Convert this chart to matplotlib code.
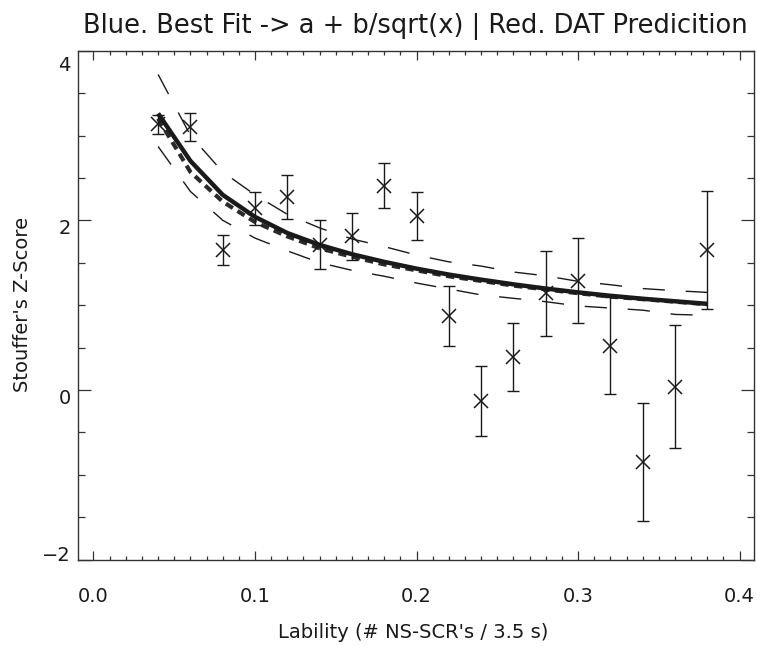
import matplotlib
matplotlib.use("Agg")
import matplotlib.pyplot as plt
from matplotlib.ticker import MultipleLocator
from matplotlib.transforms import ScaledTranslation

plt.rcParams['font.family'] = ['DejaVu Sans']

# Data
lability = [0.04, 0.06, 0.08, 0.10, 0.12, 0.14, 0.16, 0.18, 0.20,
            0.22, 0.24, 0.26, 0.28, 0.30, 0.32, 0.34, 0.36, 0.38]
zscore = [3.13, 3.10, 1.65, 2.14, 2.28, 1.71, 1.81, 2.41, 2.05,
          0.87, -0.13, 0.39, 1.14, 1.29, 0.52, -0.85, 0.04, 1.65]
zerr = [0.11, 0.16, 0.18, 0.19, 0.26, 0.29, 0.28, 0.27, 0.28,
        0.35, 0.41, 0.40, 0.50, 0.50, 0.57, 0.70, 0.72, 0.70]
best_fit = [3.26, 2.70, 2.30, 2.04, 1.85, 1.71, 1.60, 1.51, 1.43,
            1.36, 1.30, 1.245, 1.195, 1.15, 1.11, 1.075, 1.045, 1.015]
dat_pred = [3.20, 2.57, 2.22, 1.98, 1.81, 1.67, 1.57, 1.48, 1.41,
            1.34, 1.285, 1.23, 1.185, 1.14, 1.10, 1.07, 1.04, 1.01]
band_upper = [3.72, 3.00, 2.57, 2.30, 2.07, 1.91, 1.78, 1.69, 1.59,
              1.51, 1.46, 1.39, 1.345, 1.28, 1.24, 1.195, 1.17, 1.15]
band_lower = [2.87, 2.34, 2.00, 1.79, 1.64, 1.50, 1.41, 1.34, 1.26,
              1.19, 1.12, 1.08, 1.04, 0.99, 0.965, 0.94, 0.89, 0.88]

x_ticks = [0.0, 0.1, 0.2, 0.3, 0.4]
x_ticklabels = ['0.0', '0.1', '0.2', '0.3', '0.4']
y_ticks = [-2, 0, 2, 4]
y_ticklabels = ['\u22122', '0', '2', '4']

title = "Blue. Best Fit -> a + b/sqrt(x) | Red. DAT Predicition"
xlabel = "Lability (# NS-SCR's / 3.5 s)"
ylabel = "Stouffer's Z-Score"

W, H = 757, 646
fig = plt.figure(figsize=(W / 100, H / 100), dpi=100)
ax = fig.add_axes([77.5 / W, 1 - 559.5 / H, (753.7 - 77.5) / W, (559.5 - 50.7) / H])

ink = '#1a1a1a'
# confidence bands
ax.plot(lability, band_upper, color=ink, lw=1.0, dashes=(16, 15), dash_capstyle='butt')
ax.plot(lability, band_lower, color=ink, lw=1.0, dashes=(16, 15), dash_capstyle='butt')
# DAT prediction (thick dashed)
ax.plot(lability, dat_pred, color='#2a2a2a', lw=3.0, dashes=(2.0, 1.3), dash_capstyle='butt')
# best fit
ax.plot(lability, best_fit, color=ink, lw=3.2, solid_capstyle='butt')
# data with error bars
ax.errorbar(lability, zscore, yerr=zerr, fmt='none', ecolor=ink, elinewidth=1.0,
            capsize=4.0, capthick=1.0)
ax.plot(lability, zscore, linestyle='none', marker='x', markersize=10.5,
        markeredgewidth=1.1, color=ink)

ax.set_xlim(-0.0099, 0.4087)
ax.set_ylim(-2, 4)
ax.xaxis.set_minor_locator(MultipleLocator(0.01))
ax.yaxis.set_minor_locator(MultipleLocator(0.5))
ax.set_xticks(x_ticks)
ax.set_xticklabels(x_ticklabels)
ax.set_yticks(y_ticks)
ax.set_yticklabels(y_ticklabels)

for s in ax.spines.values():
    s.set_linewidth(1.0)
    s.set_color('#333333')

ax.tick_params(axis='x', which='major', direction='in', top=True, length=6.5, width=0.9,
               pad=20, labelsize=14, colors='#333333', labelcolor='#1a1a1a')
ax.tick_params(axis='x', which='minor', direction='in', top=True, length=3.2, width=0.9,
               colors='#333333')
ax.tick_params(axis='y', which='major', direction='in', right=True, length=9.5, width=0.9,
               pad=5, labelsize=14, colors='#333333', labelcolor='#1a1a1a')
ax.tick_params(axis='y', which='minor', direction='in', right=True, length=5, width=0.9,
               colors='#333333')

# IDL-like vertical nudges of y tick labels (points)
nudges = {'4': -9.5, '2': -4.5, '0': -4.5, '\u22122': 4.5}
for lab in ax.get_yticklabels():
    dy = nudges.get(lab.get_text(), 0)
    lab.set_transform(lab.get_transform() + ScaledTranslation(0, dy / 72, fig.dpi_scale_trans))

fig.text(415.6 / W, 1 - 26 / H, title, ha='center', va='center', fontsize=18.5, color='#1a1a1a')
fig.text(413 / W, 1 - 633 / H, xlabel, ha='center', va='center', fontsize=14, color='#1a1a1a')
fig.text(23 / W, 1 - 304 / H, ylabel, ha='center', va='center', rotation=90, fontsize=14,
         color='#1a1a1a')

fig.savefig('out.png', dpi=100)
